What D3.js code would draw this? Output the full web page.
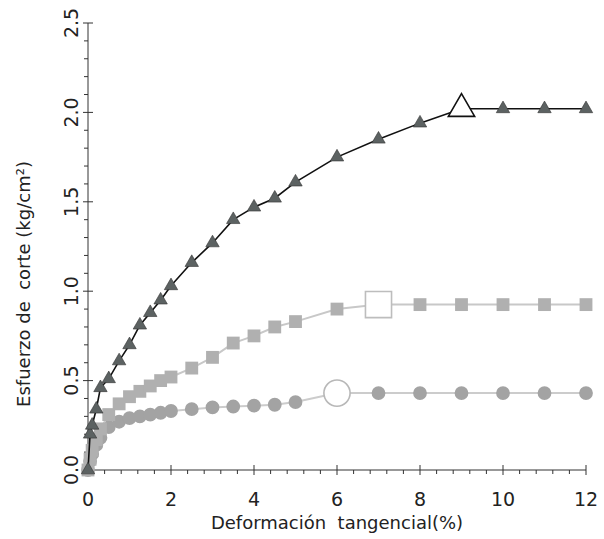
<!DOCTYPE html>
<html>
<head>
<meta charset="utf-8">
<script src="https://cdn.jsdelivr.net/npm/d3@7"></script>
<style>
  body { margin: 0; background: #fff; }
  text { font-family: "DejaVu Sans", Verdana, sans-serif; fill: #222; }
</style>
</head>
<body>
<div id="chart"></div>
<script>
// shear stress vs tangential strain, three normal loads

// strain (%) shared by the three series
const strain = [0, 0.05, 0.1, 0.2, 0.3, 0.5, 0.75, 1, 1.25, 1.5, 1.75, 2, 2.5, 3, 3.5, 4, 4.5, 5, 6, 7, 8, 9, 10, 11, 12];

// shear stress (kg/cm2)
const stressTri = [0, 0.20, 0.25, 0.34, 0.46, 0.51, 0.61, 0.70, 0.81, 0.88, 0.95, 1.03, 1.16, 1.27, 1.40, 1.47, 1.52, 1.61, 1.75, 1.85, 1.94, 2.02, 2.02, 2.02, 2.02];
const stressSq  = [0, 0.06, 0.11, 0.17, 0.23, 0.31, 0.37, 0.41, 0.44, 0.47, 0.50, 0.52, 0.57, 0.63, 0.71, 0.75, 0.80, 0.83, 0.90, 0.925, 0.925, 0.925, 0.925, 0.925, 0.925];
const stressCirc = [0, 0.05, 0.09, 0.14, 0.18, 0.24, 0.27, 0.29, 0.30, 0.31, 0.32, 0.33, 0.34, 0.35, 0.355, 0.36, 0.365, 0.38, 0.43, 0.43, 0.43, 0.43, 0.43, 0.43, 0.43];

// strain where the peak (open marker) is
const peakTri = 9;
const peakSq = 7;
const peakCirc = 6;

const xTicks = [0, 2, 4, 6, 8, 10, 12];
const yTicks = [0, 0.5, 1.0, 1.5, 2.0, 2.5];

const width = 604, height = 539;

const svg = d3.select("#chart")
    .append("svg")
    .attr("width", width)
    .attr("height", height);

const x = d3.scaleLinear().domain([0, 12]).range([88, 586]);
const y = d3.scaleLinear().domain([0, 2.5]).range([470, 23]);

// minor ticks
const xMinor = d3.range(0, 12.01, 0.4).filter(v => Math.abs(v / 2 - Math.round(v / 2)) > 0.01);
const yMinor = d3.range(0, 2.51, 0.1).filter(v => Math.abs(v / 0.5 - Math.round(v / 0.5)) > 0.01);

const axisColor = "#333";

// x axis
const gx = svg.append("g").attr("transform", "translate(0," + y(0) + ")");
gx.append("line").attr("x1", x(0)).attr("x2", x(12)).attr("stroke", axisColor).attr("stroke-width", 1);
gx.selectAll(".minor").data(xMinor).enter().append("line")
    .attr("x1", d => x(d)).attr("x2", d => x(d))
    .attr("y1", 0).attr("y2", 4)
    .attr("stroke", axisColor);
gx.selectAll(".major").data(xTicks).enter().append("line")
    .attr("x1", d => x(d)).attr("x2", d => x(d))
    .attr("y1", -5).attr("y2", 5)
    .attr("stroke", axisColor);
gx.selectAll("text").data(xTicks).enter().append("text")
    .attr("x", d => x(d)).attr("y", 36)
    .attr("text-anchor", "middle")
    .style("font-size", "19px")
    .text(d => d);

// y axis
const gy = svg.append("g").attr("transform", "translate(" + x(0) + ",0)");
gy.append("line").attr("y1", y(0)).attr("y2", y(2.5)).attr("stroke", axisColor).attr("stroke-width", 1);
gy.selectAll(".minor").data(yMinor).enter().append("line")
    .attr("y1", d => y(d)).attr("y2", d => y(d))
    .attr("x1", -4).attr("x2", 0)
    .attr("stroke", axisColor);
gy.selectAll(".major").data(yTicks).enter().append("line")
    .attr("y1", d => y(d)).attr("y2", d => y(d))
    .attr("x1", -5).attr("x2", 5)
    .attr("stroke", axisColor);
gy.selectAll("text").data(yTicks).enter().append("text")
    .attr("transform", d => "translate(-10," + y(d) + ") rotate(-90)")
    .attr("text-anchor", "middle")
    .style("font-size", "19px")
    .text(d => d.toFixed(1));

// axis titles
svg.append("text")
    .attr("x", 337).attr("y", 529)
    .attr("text-anchor", "middle")
    .style("font-size", "18px")
    .style("white-space", "pre")
    .text("Deformación  tangencial(%)");

svg.append("text")
    .attr("transform", "translate(30,284) rotate(-90)")
    .attr("text-anchor", "middle")
    .style("font-size", "18px")
    .style("white-space", "pre")
    .text("Esfuerzo de  corte (kg/cm²)");

// series
const series = [
    { vals: stressCirc, peak: peakCirc, type: d3.symbolCircle, size: 150, bigSize: 540, fill: "#a3a3a3", line: "#cccccc", lw: 2, open: "#b8b8b8" },
    { vals: stressSq, peak: peakSq, type: d3.symbolSquare, size: 165, bigSize: 680, fill: "#b0b0b0", line: "#c8c8c8", lw: 2, open: "#bdbdbd" },
    { vals: stressTri, peak: peakTri, type: d3.symbolTriangle, size: 78, bigSize: 300, fill: "#5c6262", line: "#111", lw: 1.6, open: "#111" }
];

const line = d3.line().x(d => x(d[0])).y(d => y(d[1]));

series.forEach(function (s) {
    const pts = strain.map((v, i) => [v, s.vals[i]]);
    const g = svg.append("g");
    g.append("path")
        .datum(pts)
        .attr("d", line)
        .attr("fill", "none")
        .attr("stroke", s.line)
        .attr("stroke-width", s.lw);
    g.selectAll(".pt").data(pts).enter().append("path")
        .attr("transform", d => "translate(" + x(d[0]) + "," + y(d[1]) + ")")
        .attr("d", d => d3.symbol().type(s.type).size(d[0] === s.peak ? s.bigSize : s.size)())
        .attr("fill", d => d[0] === s.peak ? "#fff" : s.fill)
        .attr("stroke", d => d[0] === s.peak ? s.open : (s.type === d3.symbolTriangle ? "#333" : "none"))
        .attr("stroke-width", d => d[0] === s.peak ? 1.6 : 0.6);
});
</script>
</body>
</html>
